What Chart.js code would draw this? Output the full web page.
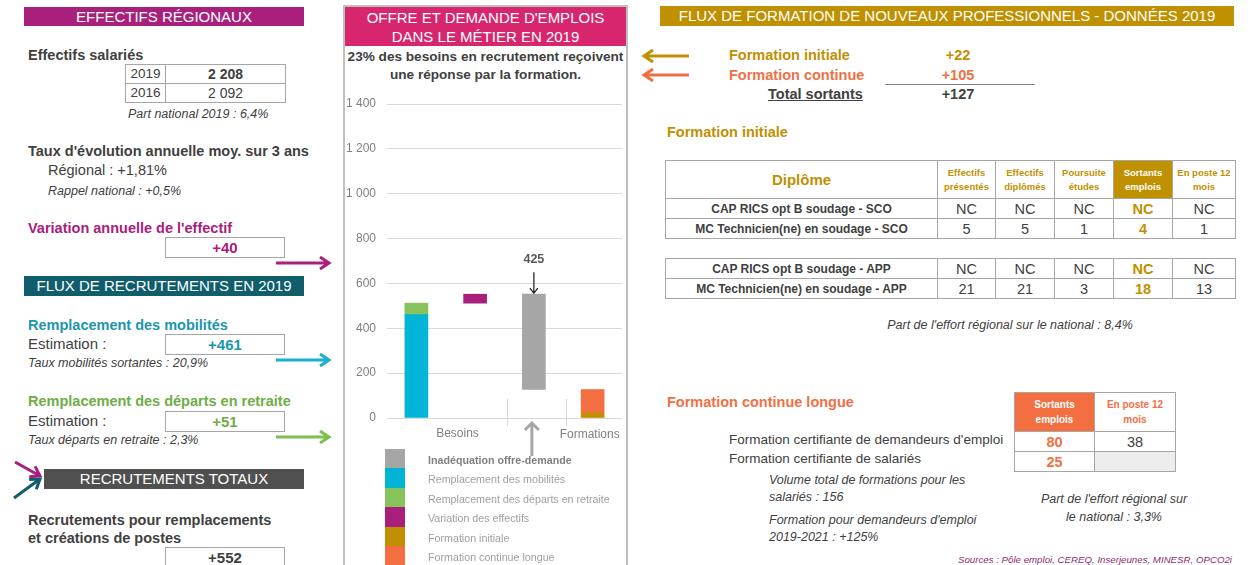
<!DOCTYPE html>
<html>
<head>
<meta charset="utf-8">
<script src="https://cdn.jsdelivr.net/npm/chart.js@4.4.0/dist/chart.umd.min.js"></script>
<style>
body{margin:0;width:1256px;height:565px;overflow:hidden;background:#fff;font-family:"Liberation Sans",Arial,sans-serif;color:#404040;position:relative}
.a{position:absolute;white-space:nowrap;line-height:18px}
.b{font-weight:bold;font-size:14.5px}
.it{font-style:italic;font-size:12.5px}
.band{position:absolute;color:#fff;text-align:center;font-size:15px}
.box{position:absolute;border:1px solid #A6A6A6;text-align:center;font-weight:bold;font-size:15px;line-height:19px;box-sizing:border-box;width:120px;height:21px}
table{position:absolute;border-collapse:collapse;table-layout:fixed}
td{border:1px solid #A6A6A6;text-align:center;padding:0;overflow:hidden}
.hd{color:#BF9000;font-weight:bold;font-size:9.5px;line-height:14px}
.rw td{height:19px;font-size:14.5px;line-height:18px}
.rw td.l{font-weight:bold;font-size:12px}
.rw td.s{color:#BF9000;font-weight:bold}
#leg div{position:absolute;left:428px;font-size:10.7px;color:#A0A0A0;white-space:nowrap;line-height:14px}
#leg span{position:absolute;left:385px;width:20px;height:20px}
</style>
</head>
<body>

<!-- left panel -->
<div class="band" style="left:24px;top:7px;width:280px;height:19px;line-height:19px;background:#A8207C">EFFECTIFS RÉGIONAUX</div>
<div class="a b" style="left:28px;top:46px">Effectifs salariés</div>
<table style="left:125px;top:64px;width:160px">
  <col style="width:40px"><col style="width:120px">
  <tr><td style="height:18px;font-size:13.5px;line-height:18px">2019</td><td style="font-weight:bold;font-size:14px">2 208</td></tr>
  <tr><td style="height:18px;font-size:13.5px;line-height:18px">2016</td><td style="font-size:14px">2 092</td></tr>
</table>
<div class="a it" style="left:128px;top:105px">Part national 2019 : 6,4%</div>
<div class="a b" style="left:28px;top:142px">Taux d'évolution annuelle moy. sur 3 ans</div>
<div class="a" style="left:48px;top:161px;font-size:14.5px">Régional : +1,81%</div>
<div class="a it" style="left:48px;top:182px">Rappel national : +0,5%</div>

<div class="a b" style="left:28px;top:219px;color:#A8207C">Variation annuelle de l'effectif</div>
<div class="box" style="left:165px;top:237px;color:#A8207C">+40</div>

<div class="band" style="left:24px;top:276px;width:280px;height:20px;line-height:20px;background:#105E6C">FLUX DE RECRUTEMENTS EN 2019</div>
<div class="a b" style="left:28px;top:316px;color:#1C96AC">Remplacement des mobilités</div>
<div class="a" style="left:28px;top:335px;font-size:15px">Estimation :</div>
<div class="box" style="left:165px;top:334px;color:#1C96AC">+461</div>
<div class="a it" style="left:28px;top:354px">Taux mobilités sortantes : 20,9%</div>

<div class="a b" style="left:28px;top:392px;color:#70AD47">Remplacement des départs en retraite</div>
<div class="a" style="left:28px;top:412px;font-size:15px">Estimation :</div>
<div class="box" style="left:165px;top:411px;color:#70AD47">+51</div>
<div class="a it" style="left:28px;top:431px">Taux départs en retraite : 2,3%</div>

<div class="band" style="left:44px;top:469px;width:260px;height:20px;line-height:20px;background:#505050">RECRUTEMENTS TOTAUX</div>
<div class="a b" style="left:28px;top:511px">Recrutements pour remplacements</div>
<div class="a b" style="left:28px;top:529px">et créations de postes</div>
<div class="box" style="left:165px;top:547px;color:#404040">+552</div>

<!-- middle panel -->
<div style="position:absolute;left:343px;top:5px;width:281px;height:580px;border:2px solid #BFBFBF"></div>
<div class="band" style="left:345px;top:7px;width:281px;height:39px;line-height:19px;padding-top:1px;box-sizing:border-box;background:#D7266D">OFFRE ET DEMANDE D'EMPLOIS<br>DANS LE MÉTIER EN 2019</div>
<div class="a" style="left:345px;width:281px;top:48px;text-align:center;font-weight:bold;font-size:13.6px;line-height:18px">23% des besoins en recrutement reçoivent<br>une réponse par la formation.</div>
<canvas id="chart" width="282" height="370" style="position:absolute;left:344px;top:90px"></canvas>
<div id="leg"></div>

<!-- right panel -->
<div class="band" style="left:660px;top:6px;width:574px;height:20px;line-height:20px;background:#BF9000">FLUX DE FORMATION DE NOUVEAUX PROFESSIONNELS - DONNÉES 2019</div>
<div class="a b" style="left:729px;top:46px;color:#BF9000">Formation initiale</div>
<div class="a b" style="left:908px;width:100px;text-align:center;top:46px;color:#BF9000">+22</div>
<div class="a b" style="left:729px;top:66px;color:#F07045">Formation continue</div>
<div class="a b" style="left:908px;width:100px;text-align:center;top:66px;color:#F07045">+105</div>
<div style="position:absolute;left:885px;top:84px;width:150px;height:1px;background:#808080"></div>
<div class="a b" style="left:768px;top:85px;text-decoration:underline">Total sortants</div>
<div class="a b" style="left:908px;width:100px;text-align:center;top:85px">+127</div>

<div class="a b" style="left:667px;top:123px;color:#BF9000">Formation initiale</div>
<table style="left:665px;top:160px;width:570px">
  <col style="width:272px"><col style="width:58px"><col style="width:59px"><col style="width:59px"><col style="width:59px"><col style="width:63px">
  <tr><td style="height:37px;color:#BF9000;font-weight:bold;font-size:15px">Diplôme</td>
    <td class="hd">Effectifs<br>présentés</td><td class="hd">Effectifs<br>diplômés</td><td class="hd">Poursuite<br>études</td>
    <td class="hd" style="background:#BF9000;color:#fff">Sortants<br>emplois</td><td class="hd">En poste 12<br>mois</td></tr>
  <tr class="rw"><td class="l">CAP RICS opt B soudage - SCO</td><td>NC</td><td>NC</td><td>NC</td><td class="s">NC</td><td>NC</td></tr>
  <tr class="rw"><td class="l">MC Technicien(ne) en soudage - SCO</td><td>5</td><td>5</td><td>1</td><td class="s">4</td><td>1</td></tr>
</table>
<table style="left:665px;top:258px;width:570px">
  <col style="width:272px"><col style="width:58px"><col style="width:59px"><col style="width:59px"><col style="width:59px"><col style="width:63px">
  <tr class="rw"><td class="l">CAP RICS opt B soudage - APP</td><td>NC</td><td>NC</td><td>NC</td><td class="s">NC</td><td>NC</td></tr>
  <tr class="rw"><td class="l">MC Technicien(ne) en soudage - APP</td><td>21</td><td>21</td><td>3</td><td class="s">18</td><td>13</td></tr>
</table>
<div class="a it" style="left:860px;width:300px;text-align:center;top:316px">Part de l'effort régional sur le national : 8,4%</div>

<div class="a b" style="left:667px;top:393px;color:#F07045">Formation continue longue</div>
<table style="left:1014px;top:392px;width:161px">
  <col style="width:80px"><col style="width:81px">
  <tr><td style="height:38px;background:#F36F42;color:#fff;font-weight:bold;font-size:10px;line-height:15px">Sortants<br>emplois</td>
    <td style="color:#F07045;font-weight:bold;font-size:10px;line-height:15px">En poste 12<br>mois</td></tr>
  <tr class="rw"><td class="s" style="color:#F07045">80</td><td>38</td></tr>
  <tr class="rw"><td class="s" style="color:#F07045">25</td><td style="background:#EDEDED"></td></tr>
</table>
<div class="a" style="left:729px;top:431px;font-size:13.5px">Formation certifiante de demandeurs d'emploi</div>
<div class="a" style="left:729px;top:450px;font-size:13.5px">Formation certifiante de salariés</div>
<div class="a it" style="left:769px;top:471px">Volume total de formations pour les</div>
<div class="a it" style="left:769px;top:488px">salariés : 156</div>
<div class="a it" style="left:769px;top:511px">Formation pour demandeurs d'emploi</div>
<div class="a it" style="left:769px;top:528px">2019-2021 : +125%</div>
<div class="a it" style="left:1014px;width:200px;text-align:center;top:490px">Part de l'effort régional sur</div>
<div class="a it" style="left:1014px;width:200px;text-align:center;top:508px">le national : 3,3%</div>
<div class="a it" style="left:900px;width:332px;text-align:right;top:551px;font-size:9.7px;color:#8E2C6F">Sources : Pôle emploi, CEREQ, Inserjeunes, MINESR, OPCO2i</div>

<svg width="1256" height="565" style="position:absolute;left:0;top:0;pointer-events:none" fill="none" stroke-width="3">
  <g stroke="#A8207C"><path d="M276 263H329M320 257L329 263L320 269"/><path d="M15 462L40 476M29.2 476.8L40 476L35.1 466.4"/></g>
  <g stroke="#1AB0D0"><path d="M276 360H329M320 354L329 360L320 366"/></g>
  <g stroke="#7DC050"><path d="M276 437H329M320 431L329 437L320 443"/></g>
  <g stroke="#105E6C"><path d="M14 498L40 479M36.3 489.2L40 479L29.2 479.5"/></g>
  <g stroke="#BF9000"><path d="M689 56H644M653 50L644 56L653 62"/></g>
  <g stroke="#F07045"><path d="M689 75H644M653 69L644 75L653 81"/></g>
</svg>

<script>
// categories of the waterfall
const categories = ['Mobilités et retraites', 'Variation', 'Inadéquation', 'Formations'];
const axisLabels = ['Besoins', 'Formations'];
// besoins: mobilités, départs en retraite, variation des effectifs
const besoinsValues = [461, 51, 40];
// formations: initiale, continue longue
const formationValues = [22, 105];
const yTicks = [0, 200, 400, 600, 800, 1000, 1200, 1400];

const seriesNames = [
  'Inadéquation offre-demande',
  'Remplacement des mobilités',
  'Remplacement des départs en retraite',
  'Variation des effectifs',
  'Formation initiale',
  'Formation continue longue',
];
const seriesColors = ['#A6A6A6', '#00B4D6', '#86C35A', '#AA1E7C', '#C09000', '#F36F42'];

// build the floating bars from the values
const mob = besoinsValues[0];
const ret = mob + besoinsValues[1];
const besoinsTotal = ret + besoinsValues[2];
const fi = formationValues[0];
const formTotal = fi + formationValues[1];
const inadequation = besoinsTotal - formTotal;

const ranges = [
  [null, null, [formTotal, besoinsTotal], null],
  [[0, mob], null, null, null],
  [[mob, ret], null, null, null],
  [null, [ret, besoinsTotal], null, null],
  [null, null, null, [0, fi]],
  [null, null, null, [fi, formTotal]],
];

// html legend
const leg = document.querySelector('#leg');
seriesNames.forEach((name, i) => {
  const top = 449 + i * 19.4;
  leg.innerHTML += `<span style="top:${top}px;background:${seriesColors[i]}"></span>` +
    `<div style="top:${top + 4}px;${i === 0 ? 'font-weight:bold;color:#808080' : ''}">${name}</div>`;
});

// extra marks: axis labels, separators, 425 arrow
const extras = {
  id: 'extras',
  afterDatasetsDraw(chart) {
    const { ctx, scales: { x, y } } = chart;
    const y0 = y.getPixelForValue(0);
    ctx.save();
    ctx.strokeStyle = '#D9D9D9';
    ctx.lineWidth = 1;
    [1.55, 2.55].forEach(v => {
      const px = Math.round(x.getPixelForValue(v)) + 0.5;
      ctx.beginPath();
      ctx.moveTo(px, y0 - 19);
      ctx.lineTo(px, y0 + 8);
      ctx.stroke();
    });
    ctx.fillStyle = '#7F7F7F';
    ctx.font = '12px "Liberation Sans", Arial';
    ctx.textAlign = 'center';
    ctx.textBaseline = 'middle';
    ctx.fillText(axisLabels[0], x.getPixelForValue(0.7), y0 + 16);
    ctx.fillText(axisLabels[1], x.getPixelForValue(2.95), y0 + 17);

    // 425 label with down arrow
    const cx = x.getPixelForValue(2);
    const top = y.getPixelForValue(besoinsTotal);
    ctx.fillStyle = '#595959';
    ctx.font = 'bold 12.5px "Liberation Sans", Arial';
    ctx.fillText(String(inadequation), cx, top - 35);
    ctx.strokeStyle = '#262626';
    ctx.lineWidth = 1.3;
    ctx.beginPath();
    ctx.moveTo(cx, top - 22);
    ctx.lineTo(cx, top - 1);
    ctx.moveTo(cx - 4, top - 6);
    ctx.lineTo(cx, top - 1);
    ctx.lineTo(cx + 4, top - 6);
    ctx.stroke();

    // grey up arrow under the axis
    const ux = cx - 2;
    ctx.strokeStyle = '#A6A6A6';
    ctx.lineWidth = 3;
    ctx.beginPath();
    ctx.moveTo(ux, y0 + 38);
    ctx.lineTo(ux, y0 + 5);
    ctx.moveTo(ux - 7, y0 + 12);
    ctx.lineTo(ux, y0 + 5);
    ctx.lineTo(ux + 7, y0 + 12);
    ctx.stroke();
    ctx.restore();
  },
};

new Chart(document.getElementById('chart'), {
  type: 'bar',
  data: {
    labels: categories,
    datasets: seriesNames.map((name, i) => ({
      label: name,
      data: ranges[i],
      backgroundColor: seriesColors[i],
      borderWidth: 0,
      barThickness: 23,
      grouped: false,
    })),
  },
  options: {
    responsive: false,
    animation: false,
    devicePixelRatio: 1,
    layout: { padding: { top: 14, right: 4, bottom: 42, left: 0 } },
    plugins: { legend: { display: false }, tooltip: { enabled: false } },
    scales: {
      x: { display: false },
      y: {
        min: 0,
        max: 1400,
        afterBuildTicks: s => { s.ticks = yTicks.map(v => ({ value: v })); },
        afterFit: s => {
          s.width = 43;
          s.paddingTop = 0;
          s.paddingBottom = 0;
        },
        border: { display: false },
        grid: { color: '#D9D9D9', drawTicks: false },
        ticks: {
          padding: 11,
          color: '#808080',
          font: { family: '"Liberation Sans", Arial', size: 12 },
          callback: v => String(v).replace(/\B(?=(\d{3})+(?!\d))/g, ' '),
        },
      },
    },
  },
  plugins: [extras],
});
</script>
</body>
</html>
